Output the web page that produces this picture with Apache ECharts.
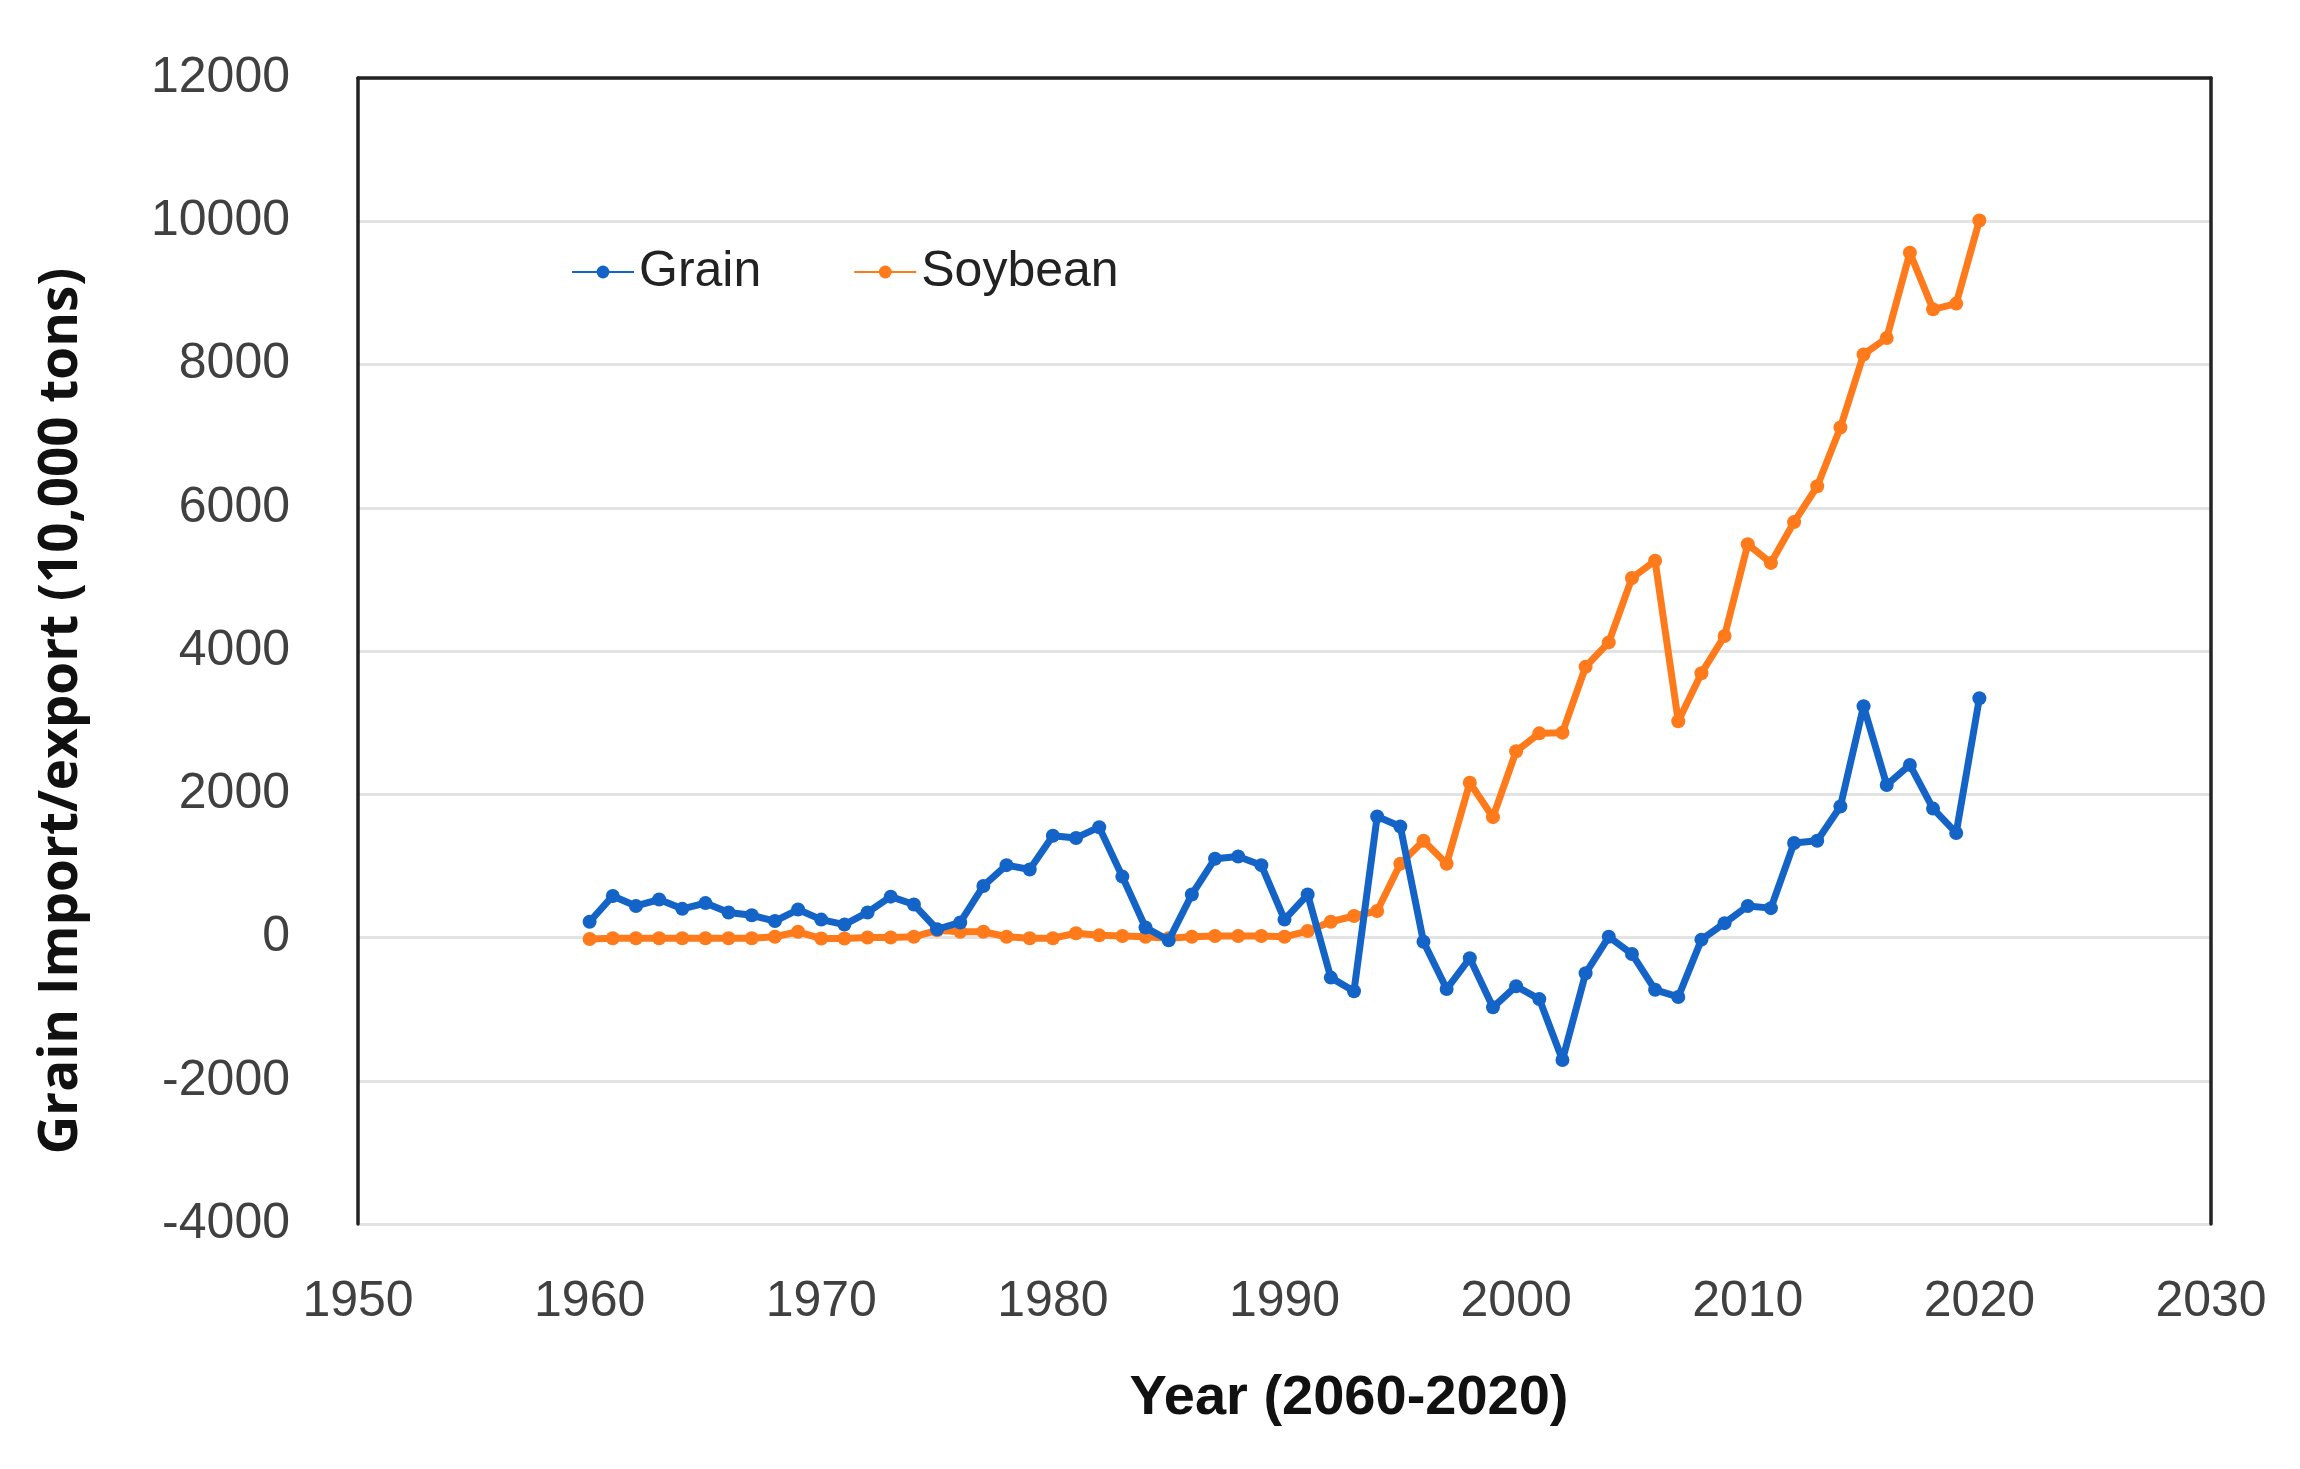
<!DOCTYPE html>
<html>
<head>
<meta charset="utf-8">
<script src="https://cdn.jsdelivr.net/npm/echarts@6/dist/echarts.min.js"></script>
<style>
html,body{margin:0;padding:0;background:#fff;}
#chart{width:2300px;height:1469px;}
</style>
</head>
<body>
<div id="chart"></div>
<script>
const years = [];
for (let y = 1960; y <= 2020; y++) years.push(y);

const grain = [
  220, 580, 440, 530, 400, 480, 350, 310, 230, 390,
  250, 180, 350, 570, 460, 115, 210, 720, 1010, 950,
  1420, 1390, 1540, 850, 140, -40, 600, 1100, 1130, 1010,
  250, 600, -560, -750, 1690, 1550, -60, -720, -290, -975,
  -680, -860, -1710, -500, 10, -230, -730, -830, -30, 200,
  440, 410, 1320, 1350, 1830, 3230, 2130, 2410, 1800, 1460,
  3340
];

const soybean = [
  -20, -10, -10, -10, -10, -10, -10, -10, 10, 80,
  -15, -15, 0, 0, 10, 100, 80, 80, 10, -10,
  -10, 60, 30, 20, 10, -10, 10, 20, 20, 20,
  10, 90, 220, 300, 370, 1030, 1350, 1030, 2160, 1680,
  2600, 2850, 2860, 3780, 4120, 5020, 5260, 3020, 3690, 4210,
  5490, 5230, 5800, 6300, 7120, 8140, 8370, 9560, 8770, 8850,
  10010
];

const seriesNames = ['Grain', 'Soybean'];
const xTitle = 'Year (2060-2020)';
const yTitle = 'Grain Import/export (10,000 tons)';

const BLUE = '#1464c8';
const ORANGE = '#ff7a1a';
const FONT = '"Liberation Sans", Arial, sans-serif';

const chart = echarts.init(document.getElementById('chart'));

function pairs(vals) { return years.map((y, i) => [y, vals[i]]); }
const plain = v => String(v);

chart.setOption({
  backgroundColor: '#fff',
  animation: false,
  grid: { left: 358, right: 89, top: 78, bottom: 245 },
  legend: {
    left: 566, top: 242,
    itemWidth: 62, itemHeight: 16,
    itemGap: 92,
    textStyle: { fontFamily: FONT, fontSize: 50, color: '#222' },
    data: seriesNames
  },
  xAxis: [{
    type: 'value', min: 1950, max: 2030, interval: 10,
    axisLine: { show: false, onZero: false },
    axisTick: { show: false },
    splitLine: { show: false },
    axisLabel: { margin: 53, fontFamily: FONT, fontSize: 50, color: '#404040', formatter: plain }
  }, {
    type: 'value', position: 'top', min: 1950, max: 2030,
    axisLine: { show: true, onZero: false, lineStyle: { color: '#222', width: 3.5 } },
    axisTick: { show: false }, axisLabel: { show: false }, splitLine: { show: false }
  }],
  yAxis: [{
    type: 'value', min: -4000, max: 12000, interval: 2000,
    axisLine: { show: true, onZero: false, lineStyle: { color: '#222', width: 3.5 } },
    axisTick: { show: false },
    splitLine: { show: true, lineStyle: { color: '#e3e3e3', width: 3 } },
    axisLabel: { margin: 68, fontFamily: FONT, fontSize: 50, color: '#404040', formatter: plain }
  }, {
    type: 'value', position: 'right', min: -4000, max: 12000, interval: 2000,
    axisLine: { show: true, onZero: false, lineStyle: { color: '#222', width: 3.5 } },
    axisTick: { show: false }, axisLabel: { show: false }, splitLine: { show: false }
  }],
  series: [{
    name: seriesNames[0], type: 'line', data: pairs(grain),
    symbol: 'circle', symbolSize: 14,
    lineStyle: { color: BLUE, width: 7 },
    itemStyle: { color: BLUE },
    z: 3
  }, {
    name: seriesNames[1], type: 'line', data: pairs(soybean),
    symbol: 'circle', symbolSize: 14,
    lineStyle: { color: ORANGE, width: 7 },
    itemStyle: { color: ORANGE },
    z: 2
  }],
  graphic: [{
    type: 'text', x: 1349, y: 1399,
    style: { text: xTitle, fontFamily: FONT, fontWeight: 'bold', fontSize: 56, fill: '#111',
      align: 'center', verticalAlign: 'middle' }
  }, {
    type: 'text', x: 62, y: 711, rotation: Math.PI / 2,
    style: { text: yTitle, fontFamily: '"Open Sans", ' + FONT, fontWeight: 'bold', fontSize: 53, fill: '#111',
      align: 'center', verticalAlign: 'middle' }
  }]
});
</script>
</body>
</html>
